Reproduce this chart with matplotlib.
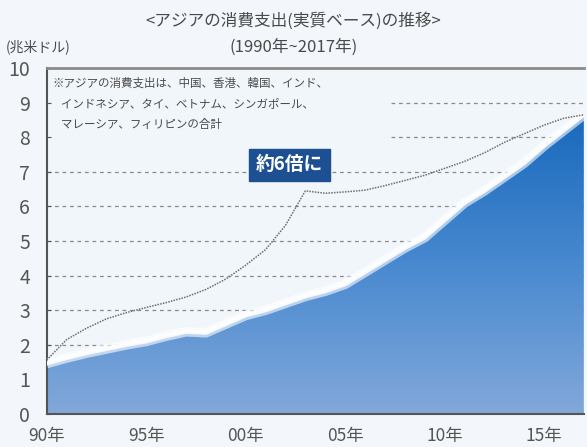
import matplotlib
matplotlib.use("Agg")
import matplotlib.pyplot as plt
import numpy as np
from matplotlib.colors import LinearSegmentedColormap

plt.rcParams['font.family'] = ['Noto Sans CJK JP', 'DejaVu Sans']

# real consumer spending in Asia (trillion USD)
years = list(range(1990, 2018))
real_spend = [1.46, 1.62, 1.76, 1.88, 2.00, 2.10, 2.25, 2.38, 2.35, 2.60,
              2.85, 3.00, 3.20, 3.40, 3.55, 3.75, 4.10, 4.45, 4.80, 5.10,
              5.60, 6.10, 6.45, 6.85, 7.25, 7.75, 8.20, 8.65]
# dotted reference line
dotted_line = [1.56, 2.15, 2.48, 2.75, 2.93, 3.08, 3.22, 3.38, 3.60, 3.90,
               4.30, 4.75, 5.45, 6.45, 6.38, 6.42, 6.47, 6.60, 6.75, 6.90,
               7.10, 7.30, 7.55, 7.85, 8.10, 8.35, 8.55, 8.65]

xtick_years = [1990, 1995, 2000, 2005, 2010, 2015]
xtick_labels = ["90年", "95年", "00年", "05年", "10年", "15年"]
yticks = list(range(0, 11))

title = "<アジアの消費支出(実質ベース)の推移>"
subtitle = "(1990年~2017年)"
unit = "(兆米ドル)"
note = ("※アジアの消費支出は、中国、香港、韓国、インド、\n"
        "   インドネシア、タイ、ベトナム、シンガポール、\n"
        "   マレーシア、フィリピンの合計")
callout = "約6倍に"

bg = "#f3f7fb"
txt = "#4a4a4a"

fig = plt.figure(figsize=(5.87, 4.47), dpi=100, facecolor=bg)
ax = fig.add_axes([0.0796, 0.0738, 0.915, 0.774])
ax.set_facecolor("#f1f6fb")
ax.set_xlim(1990, 2017)
ax.set_ylim(0, 10)

# dashed grid, hidden behind the area; upper two lines start right of the note
for v in range(2, 10):
    x0 = 2007.3 if v >= 8 else 1990
    ax.hlines(v, x0, 2017, colors="#8a8a8a", linestyles=(0, (3, 3)),
              linewidth=0.9, zorder=1)

# gradient filled area
poly = ax.fill_between(years, real_spend, 0, color="none", zorder=2)
cmap = LinearSegmentedColormap.from_list("blu", ["#82a8da", "#4688cf", "#1566bb"])
grad = np.linspace(0, 1, 256).reshape(-1, 1)
im = ax.imshow(grad, extent=[1990, 2017, 0, 9], origin="lower", aspect="auto",
               cmap=cmap, zorder=2)
im.set_clip_path(poly.get_paths()[0], transform=ax.transData)
ax.plot(years, real_spend, color="white", linewidth=7, alpha=0.6, zorder=3,
        solid_capstyle="butt")
ax.plot(years, real_spend, color="white", linewidth=3, alpha=0.9, zorder=3,
        solid_capstyle="butt")

ax.plot(years, dotted_line, color="#6e6e6e", linestyle=(0, (1, 0.8)),
        linewidth=1.1, zorder=4)

# frame
ax.spines["right"].set_visible(False)
ax.spines["top"].set_color("#8a8a8a")
ax.spines["top"].set_linewidth(2)
for side in ["left", "bottom"]:
    ax.spines[side].set_color("#555555")
    ax.spines[side].set_linewidth(1.5)

ax.set_xticks(xtick_years)
ax.set_xticklabels(xtick_labels)
ax.set_yticks(yticks)
ax.tick_params(axis="both", direction="in", length=3, color="#555555",
               labelcolor="#555555")
ax.tick_params(axis="y", labelsize=14, pad=12)
ax.tick_params(axis="x", labelsize=12.5, pad=9)

ax.text(1990.3, 9.75, note, fontsize=8.3, color=txt, va="top", ha="left",
        linespacing=1.75, zorder=5)
ax.text(2002.2, 7.2, callout, fontsize=13.5, color="white", fontweight="bold",
        ha="center", va="center", zorder=6,
        bbox=dict(boxstyle="square,pad=0.35", facecolor="#1d4f93",
                  edgecolor="#1d4f93"))

fig.text(0.5, 0.952, title, fontsize=12, color=txt, ha="center", va="center")
fig.text(0.5, 0.895, subtitle, fontsize=12, color=txt, ha="center", va="center")
fig.text(0.01, 0.895, unit, fontsize=10, color=txt, ha="left", va="center")

fig.savefig("out.png", dpi=100, facecolor=bg)
